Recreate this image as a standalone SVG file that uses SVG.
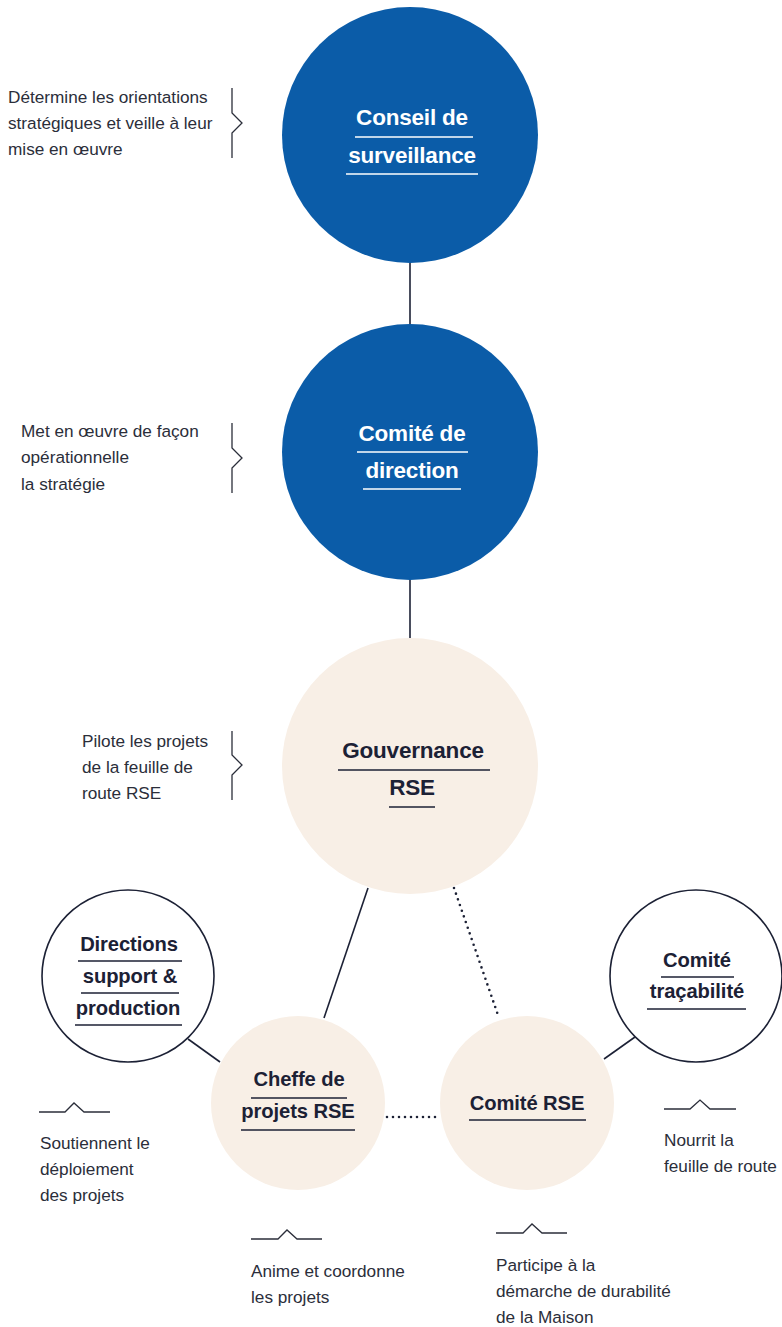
<svg xmlns="http://www.w3.org/2000/svg" width="782" height="1327" viewBox="0 0 782 1327">
<style>
.blue{fill:#0b5ca8}
.beige{fill:#f8efe6}
.ring{fill:#fff;stroke:#1c2135;stroke-width:1.6}
.tw{font-family:"Liberation Sans",Arial,sans-serif;font-weight:bold;fill:#fff;text-anchor:middle}
.td{font-family:"Liberation Sans",Arial,sans-serif;font-weight:bold;fill:#1c2135;text-anchor:middle}
.big{font-size:22.5px;letter-spacing:-0.2px}
.sm{font-size:20.2px;letter-spacing:-0.1px}
.ulw{stroke:#fff;stroke-width:1.3}
.uld{stroke:#1c2135;stroke-width:1.3}
.ann{font-family:"Liberation Sans",Arial,sans-serif;font-size:17.2px;fill:#2b2e3a}
.br{fill:none;stroke:#2b2e3a;stroke-width:1.3}
.cn{fill:none;stroke:#1c2135;stroke-width:1.6}
.dot{fill:none;stroke:#1c2135;stroke-width:2.6;stroke-dasharray:0 6;stroke-linecap:round}
</style>
<g id="connectors">
<line class="cn" x1="410" y1="263" x2="410" y2="324"/>
<line class="cn" x1="410" y1="580" x2="410" y2="638"/>
<line class="cn" x1="368" y1="888" x2="324" y2="1018"/>
<line class="dot" x1="454" y1="888" x2="499" y2="1018"/>
<line class="cn" x1="188" y1="1039" x2="220" y2="1062"/>
<line class="cn" x1="635" y1="1037" x2="604" y2="1059"/>
<line class="dot" x1="387" y1="1117" x2="440" y2="1117"/>
</g>
<g id="node-conseil">
<circle class="blue" cx="410" cy="135" r="128"/>
<text class="tw big" x="412" y="125">Conseil de</text>
<line class="ulw" x1="355" y1="137" x2="473" y2="137"/>
<text class="tw big" x="412" y="163">surveillance</text>
<line class="ulw" x1="346" y1="174" x2="478" y2="174"/>
</g>
<g id="node-comite-direction">
<circle class="blue" cx="410" cy="452" r="128"/>
<text class="tw big" x="412" y="441">Comité de</text>
<line class="ulw" x1="357" y1="452" x2="468" y2="452"/>
<text class="tw big" x="412" y="478">direction</text>
<line class="ulw" x1="363" y1="489" x2="461" y2="489"/>
</g>
<g id="node-gouvernance">
<circle class="beige" cx="410" cy="766" r="128"/>
<text class="td big" x="413" y="758">Gouvernance</text>
<line class="uld" x1="338" y1="770" x2="490" y2="770"/>
<text class="td big" x="412" y="795">RSE</text>
<line class="uld" x1="389" y1="807" x2="435" y2="807"/>
</g>
<g id="node-directions">
<circle class="ring" cx="128" cy="976" r="86"/>
<text class="td sm" x="129" y="951">Directions</text>
<line class="uld" x1="78" y1="961" x2="182" y2="961"/>
<text class="td sm" x="130" y="983">support &amp;</text>
<line class="uld" x1="81" y1="993" x2="179" y2="993"/>
<text class="td sm" x="128" y="1015">production</text>
<line class="uld" x1="75" y1="1025" x2="182" y2="1025"/>
</g>
<g id="node-cheffe">
<circle class="beige" cx="298" cy="1103" r="87"/>
<text class="td sm" x="299" y="1086">Cheffe de</text>
<line class="uld" x1="251" y1="1098" x2="347" y2="1098"/>
<text class="td sm" x="298" y="1118">projets RSE</text>
<line class="uld" x1="241" y1="1130" x2="355" y2="1130"/>
</g>
<g id="node-comite-rse">
<circle class="beige" cx="527" cy="1103" r="87"/>
<text class="td sm" x="527" y="1110">Comité RSE</text>
<line class="uld" x1="469" y1="1120" x2="586" y2="1120"/>
</g>
<g id="node-tracabilite">
<circle class="ring" cx="696" cy="976" r="86"/>
<text class="td sm" x="697" y="967">Comité</text>
<line class="uld" x1="661" y1="977" x2="734" y2="977"/>
<text class="td sm" x="697" y="998">traçabilité</text>
<line class="uld" x1="647" y1="1009" x2="746" y2="1009"/>
</g>
<g id="annotations">
<path class="br" d="M232 88V113L242 123L232 133V158"/>
<text class="ann" x="8" y="103">Détermine les orientations</text>
<text class="ann" x="8" y="129">stratégiques et veille à leur</text>
<text class="ann" x="8" y="155">mise en œuvre</text>
<path class="br" d="M232 423V448L242 458L232 468V493"/>
<text class="ann" x="21" y="437">Met en œuvre de façon</text>
<text class="ann" x="21" y="463">opérationnelle</text>
<text class="ann" x="21" y="490">la stratégie</text>
<path class="br" d="M232 731V755L242 765L232 775V800"/>
<text class="ann" x="82" y="747">Pilote les projets</text>
<text class="ann" x="82" y="773">de la feuille de</text>
<text class="ann" x="82" y="799">route RSE</text>
<path class="br" d="M39 1112H65L74 1103L84 1112H110"/>
<text class="ann" x="40" y="1149">Soutiennent le</text>
<text class="ann" x="40" y="1175">déploiement</text>
<text class="ann" x="40" y="1201">des projets</text>
<path class="br" d="M664 1109H690L700 1100L710 1109H736"/>
<text class="ann" x="664" y="1146">Nourrit la</text>
<text class="ann" x="664" y="1172">feuille de route</text>
<path class="br" d="M251 1239H278L287 1230L297 1239H322"/>
<text class="ann" x="251" y="1277">Anime et coordonne</text>
<text class="ann" x="251" y="1303">les projets</text>
<path class="br" d="M496 1233H523L532 1224L542 1233H567"/>
<text class="ann" x="496" y="1271">Participe à la</text>
<text class="ann" x="496" y="1297">démarche de durabilité</text>
<text class="ann" x="496" y="1323">de la Maison</text>
</g>
</svg>
